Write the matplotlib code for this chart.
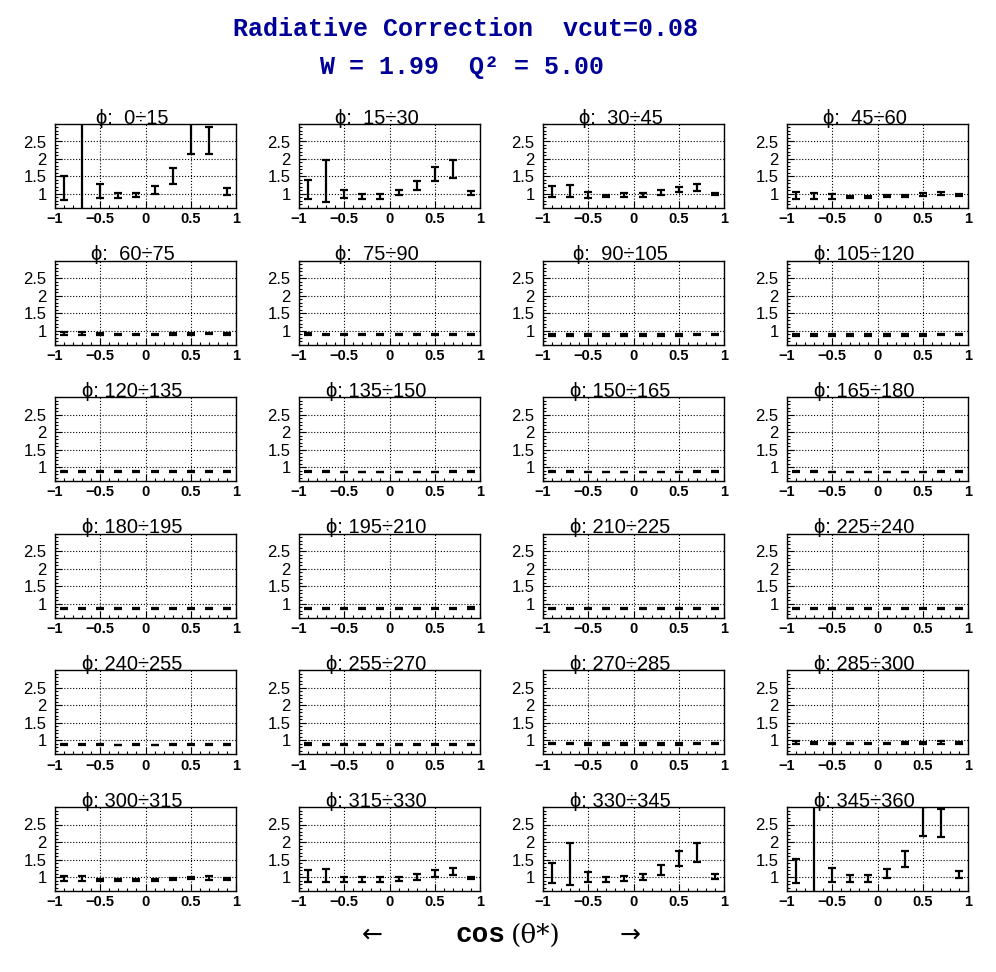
import matplotlib
matplotlib.use("Agg")
import matplotlib.pyplot as plt
from matplotlib.ticker import MultipleLocator

# cos(theta*) bin centres
cos_theta = [-0.9, -0.7, -0.5, -0.3, -0.1, 0.1, 0.3, 0.5, 0.7, 0.9]

phi_labels = [
    "ϕ:  0÷15", "ϕ:  15÷30", "ϕ:  30÷45", "ϕ:  45÷60",
    "ϕ:  60÷75", "ϕ:  75÷90", "ϕ:  90÷105", "ϕ: 105÷120",
    "ϕ: 120÷135", "ϕ: 135÷150", "ϕ: 150÷165", "ϕ: 165÷180",
    "ϕ: 180÷195", "ϕ: 195÷210", "ϕ: 210÷225", "ϕ: 225÷240",
    "ϕ: 240÷255", "ϕ: 255÷270", "ϕ: 270÷285", "ϕ: 285÷300",
    "ϕ: 300÷315", "ϕ: 315÷330", "ϕ: 330÷345", "ϕ: 345÷360",
]

# radiative correction per phi bin (values, errors)
rc_vals = [
    [1.17, 1.80, 1.08, 0.96, 0.97, 1.11, 1.52, 2.58, 2.52, 1.08],
    [1.12, 1.37, 1.00, 0.94, 0.94, 1.04, 1.24, 1.57, 1.71, 1.03],
    [1.07, 1.09, 0.97, 0.93, 0.97, 0.97, 1.04, 1.13, 1.19, 1.00],
    [0.96, 0.95, 0.93, 0.92, 0.92, 0.95, 0.95, 0.99, 1.01, 0.97],
    [0.92, 0.92, 0.90, 0.89, 0.89, 0.89, 0.90, 0.91, 0.92, 0.91],
    [0.90, 0.89, 0.89, 0.89, 0.88, 0.89, 0.89, 0.89, 0.89, 0.90],
    [0.88, 0.87, 0.87, 0.87, 0.87, 0.87, 0.87, 0.87, 0.89, 0.89],
    [0.87, 0.87, 0.87, 0.87, 0.87, 0.87, 0.87, 0.87, 0.88, 0.88],
    [0.87, 0.87, 0.87, 0.87, 0.87, 0.87, 0.87, 0.87, 0.88, 0.87],
    [0.87, 0.87, 0.86, 0.86, 0.86, 0.86, 0.86, 0.86, 0.87, 0.87],
    [0.87, 0.87, 0.86, 0.86, 0.86, 0.86, 0.86, 0.86, 0.87, 0.87],
    [0.87, 0.87, 0.86, 0.86, 0.86, 0.86, 0.86, 0.86, 0.87, 0.87],
    [0.87, 0.87, 0.86, 0.86, 0.86, 0.86, 0.86, 0.86, 0.87, 0.87],
    [0.87, 0.87, 0.86, 0.86, 0.86, 0.86, 0.86, 0.86, 0.87, 0.88],
    [0.87, 0.87, 0.86, 0.86, 0.86, 0.86, 0.86, 0.86, 0.87, 0.87],
    [0.87, 0.87, 0.86, 0.86, 0.86, 0.86, 0.86, 0.86, 0.87, 0.87],
    [0.88, 0.88, 0.87, 0.87, 0.87, 0.87, 0.87, 0.87, 0.88, 0.88],
    [0.89, 0.89, 0.88, 0.88, 0.88, 0.88, 0.88, 0.88, 0.89, 0.89],
    [0.91, 0.91, 0.90, 0.90, 0.90, 0.90, 0.90, 0.90, 0.91, 0.91],
    [0.93, 0.93, 0.91, 0.91, 0.91, 0.91, 0.92, 0.93, 0.94, 0.93],
    [0.95, 0.95, 0.92, 0.92, 0.92, 0.92, 0.94, 0.96, 0.97, 0.95],
    [1.03, 1.05, 0.92, 0.93, 0.93, 0.94, 1.00, 1.09, 1.16, 0.97],
    [1.11, 1.38, 0.99, 0.92, 0.95, 1.00, 1.21, 1.53, 1.71, 1.01],
    [1.17, 1.80, 1.05, 0.96, 0.96, 1.10, 1.52, 2.58, 2.53, 1.08],
]
rc_errs = [
    [0.35, 1.30, 0.20, 0.08, 0.07, 0.11, 0.23, 0.44, 0.38, 0.10],
    [0.27, 0.60, 0.12, 0.07, 0.07, 0.08, 0.14, 0.20, 0.26, 0.05],
    [0.17, 0.18, 0.08, 0.03, 0.05, 0.07, 0.07, 0.08, 0.10, 0.03],
    [0.09, 0.08, 0.06, 0.03, 0.03, 0.03, 0.03, 0.05, 0.05, 0.03],
    [0.05, 0.05, 0.03, 0.02, 0.02, 0.02, 0.025, 0.025, 0.025, 0.025],
    [0.025, 0.02, 0.025, 0.025, 0.02, 0.025, 0.02, 0.02, 0.02, 0.012],
    [0.025, 0.02, 0.025, 0.02, 0.02, 0.025, 0.02, 0.02, 0.012, 0.012],
    [0.02, 0.02, 0.02, 0.02, 0.02, 0.02, 0.02, 0.02, 0.01, 0.01],
    [0.015, 0.01, 0.01, 0.01, 0.01, 0.01, 0.01, 0.01, 0.015, 0.01],
    [0.015, 0.01, 0.01, 0.01, 0.01, 0.01, 0.01, 0.01, 0.01, 0.01],
    [0.015, 0.01, 0.01, 0.01, 0.01, 0.01, 0.01, 0.01, 0.01, 0.01],
    [0.01, 0.01, 0.01, 0.01, 0.01, 0.01, 0.01, 0.01, 0.01, 0.01],
    [0.01, 0.01, 0.01, 0.015, 0.01, 0.015, 0.01, 0.01, 0.01, 0.01],
    [0.01, 0.01, 0.01, 0.01, 0.01, 0.01, 0.01, 0.01, 0.01, 0.015],
    [0.015, 0.01, 0.01, 0.01, 0.01, 0.01, 0.01, 0.01, 0.01, 0.01],
    [0.015, 0.01, 0.01, 0.01, 0.01, 0.01, 0.01, 0.01, 0.01, 0.01],
    [0.02, 0.02, 0.015, 0.01, 0.015, 0.01, 0.015, 0.015, 0.02, 0.015],
    [0.025, 0.02, 0.02, 0.02, 0.02, 0.02, 0.02, 0.02, 0.02, 0.015],
    [0.025, 0.025, 0.02, 0.02, 0.02, 0.02, 0.02, 0.02, 0.025, 0.02],
    [0.04, 0.035, 0.025, 0.02, 0.02, 0.025, 0.025, 0.025, 0.03, 0.025],
    [0.07, 0.07, 0.03, 0.03, 0.03, 0.03, 0.03, 0.03, 0.05, 0.03],
    [0.17, 0.18, 0.07, 0.06, 0.06, 0.06, 0.08, 0.10, 0.11, 0.03],
    [0.28, 0.60, 0.14, 0.07, 0.07, 0.09, 0.14, 0.21, 0.27, 0.07],
    [0.35, 1.30, 0.20, 0.09, 0.09, 0.13, 0.23, 0.42, 0.40, 0.10],
]

W, H = 996, 972
fig = plt.figure(figsize=(W / 100, H / 100), dpi=100)

sans = ["Liberation Sans", "DejaVu Sans"]
navy = "#000099"

# panel geometry in pixels
ax_w, ax_h = 181, 84
lefts = [55, 299, 543, 787]
tops = [124 + 136.6 * r for r in range(6)]

for k in range(24):
    r, c = divmod(k, 4)
    x0, y0 = lefts[c], tops[r]
    ax = fig.add_axes([x0 / W, 1 - (y0 + ax_h) / H, ax_w / W, ax_h / H])
    ax.errorbar(cos_theta, rc_vals[k], yerr=rc_errs[k], fmt="none",
                ecolor="black", elinewidth=1.6, capsize=3, capthick=1.6)
    ax.set_xlim(-1, 1)
    ax.set_ylim(0.6, 3.0)
    ax.set_xticks([-1, -0.5, 0, 0.5, 1])
    ax.set_xticklabels(["\u22121", "\u22120.5", "0", "0.5", "1"],
                       fontfamily=sans, fontweight="bold", fontsize=10.5)
    ax.set_yticks([1, 1.5, 2, 2.5])
    ax.set_yticklabels(["1", "1.5", "2", "2.5"], fontfamily=sans, fontsize=12)
    ax.xaxis.set_minor_locator(MultipleLocator(0.1))
    ax.yaxis.set_minor_locator(MultipleLocator(0.1))
    ax.tick_params(axis="both", which="major", direction="in", length=5,
                   width=0.8)
    ax.tick_params(axis="both", which="minor", direction="in", length=2.5,
                   width=0.8)
    ax.tick_params(axis="x", which="major", pad=3)
    ax.tick_params(axis="y", which="major", pad=6)
    ax.grid(True, which="major", color="black", linestyle=":", linewidth=0.8)
    for s in ax.spines.values():
        s.set_linewidth(1.0)
    # panel title, sitting on the frame
    fig.text((x0 + ax_w / 2 - 13) / W, 1 - (y0 - 0.5) / H, phi_labels[k],
             ha="center", va="baseline", fontsize=14.5, family=sans)

fig.text(465 / W, 1 - 29 / H, "Radiative Correction  vcut=0.08",
         ha="center", va="center", fontsize=18, family="Liberation Mono",
         fontweight="bold", color=navy)
fig.text(462 / W, 1 - 67 / H, "W = 1.99  Q² = 5.00",
         ha="center", va="center", fontsize=18, family="Liberation Mono",
         fontweight="bold", color=navy)

# bottom axis label
fig.text(372 / W, 1 - 935 / H, "←", ha="center", va="center", fontsize=18,
         family="DejaVu Sans")
fig.text(630 / W, 1 - 935 / H, "→", ha="center", va="center", fontsize=18,
         family="DejaVu Sans")
fig.text(455 / W, 1 - 935 / H, "cos", ha="left", va="center", fontsize=20,
         family="Liberation Mono", fontweight="bold")
fig.text(511 / W, 1 - 935 / H, "(θ*)", ha="left", va="center", fontsize=19,
         family="DejaVu Serif")

fig.savefig("out.png", dpi=100)
